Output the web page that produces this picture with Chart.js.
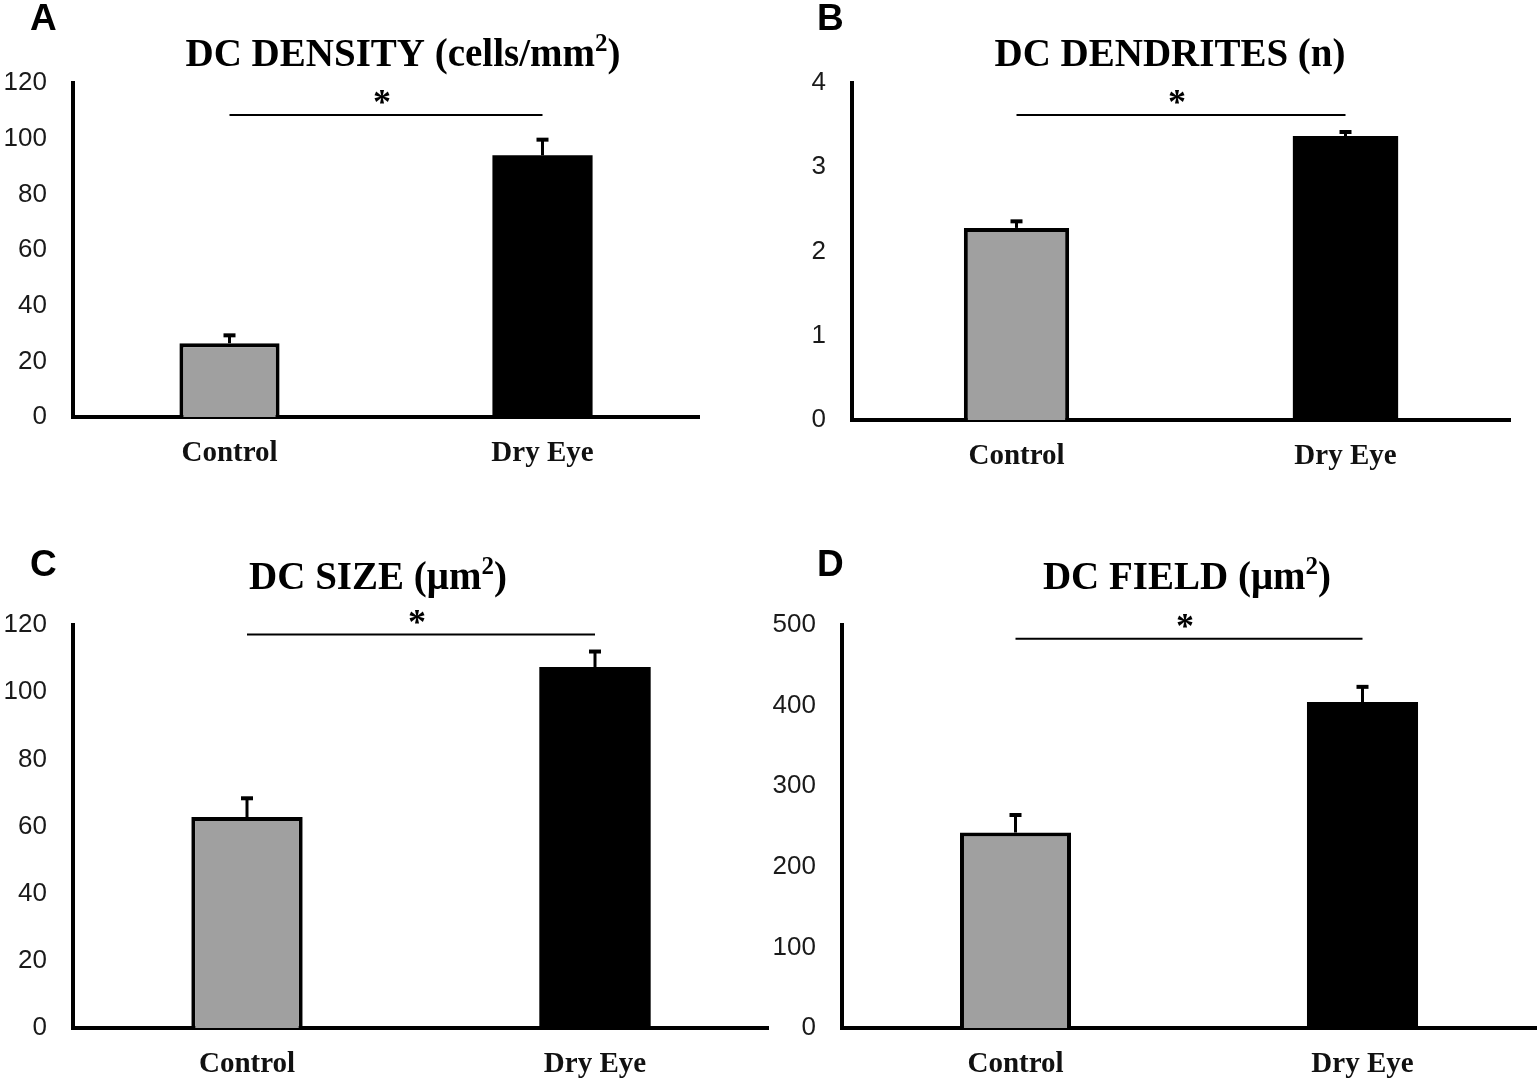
<!DOCTYPE html>
<html>
<head>
<meta charset="utf-8">
<script src="https://cdn.jsdelivr.net/npm/chart.js@4.4.1/dist/chart.umd.min.js"></script>
<style>
  body { margin: 0; background: #fff; }
  .panel { position: absolute; width: 769px; height: 540px; }
</style>
</head>
<body>
<div class="panel" style="left:0;top:0"><canvas id="chartA" width="769" height="540"></canvas></div>
<div class="panel" style="left:769px;top:0"><canvas id="chartB" width="769" height="540"></canvas></div>
<div class="panel" style="left:0;top:540px"><canvas id="chartC" width="769" height="540"></canvas></div>
<div class="panel" style="left:769px;top:540px"><canvas id="chartD" width="769" height="540"></canvas></div>
<script>
// categories
var groups = ['Control', 'Dry Eye'];

// A - DC density (cells/mm2)
var densityMean = [26.5, 94];
var densityErr = [3.2, 6];
// B - DC dendrites (n)
var dendriteMean = [2.28, 3.37];
var dendriteErr = [0.09, 0.06];
// C - DC size (um2)
var sizeMean = [62.8, 107.5];
var sizeErr = [5.9, 4.9];
// D - DC field (um2)
var fieldMean = [242.5, 404.5];
var fieldErr = [23, 20];

// y axis ticks: [max, step]
var densityTicks = [120, 20];
var dendriteTicks = [4, 1];
var sizeTicks = [120, 20];
var fieldTicks = [500, 100];

// level of the significance bar
var sigLevels = [108.5, 3.62, 117.2, 483];

var barColors = ['#a0a0a0', '#000000'];

// title with a real superscript "2"
function drawTitle(ctx, parts, cx, cy) {
  var big = 'bold 39px "Liberation Serif"', small = 'bold 25px "Liberation Serif"';
  var w = 0;
  parts.forEach(function(t, i) {
    ctx.font = (i == 1) ? small : big;
    w += ctx.measureText(t).width;
  });
  var x = cx - w / 2;
  ctx.textAlign = 'left';
  parts.forEach(function(t, i) {
    ctx.font = (i == 1) ? small : big;
    ctx.fillText(t, x, (i == 1) ? cy - 11 : cy);
    x += ctx.measureText(t).width;
  });
}

// error bars + significance line
var extras = {
  id: 'extras',
  afterDatasetsDraw: function(chart) {
    var o = chart.options.plugins.extras;
    var ctx = chart.ctx;
    var y = chart.scales.y;
    var meta = chart.getDatasetMeta(0);
    ctx.save();
    ctx.strokeStyle = '#000';
    meta.data.forEach(function(bar, i) {
      var top = y.getPixelForValue(o.mean[i]);
      var hi = y.getPixelForValue(o.mean[i] + o.err[i]);
      ctx.lineWidth = 3;
      ctx.beginPath();
      ctx.moveTo(bar.x, top);
      ctx.lineTo(bar.x, hi);
      ctx.stroke();
      ctx.lineWidth = 4;
      ctx.beginPath();
      ctx.moveTo(bar.x - 6, hi + 1);
      ctx.lineTo(bar.x + 6, hi + 1);
      ctx.stroke();
    });
    // significance
    var sy = y.getPixelForValue(o.sig);
    var x1 = meta.data[0].x, x2 = meta.data[1].x;
    ctx.lineWidth = 2;
    ctx.beginPath();
    ctx.moveTo(x1, sy);
    ctx.lineTo(x2, sy);
    ctx.stroke();
    ctx.fillStyle = '#000';
    ctx.font = 'bold 36px "Liberation Serif"';
    ctx.textAlign = 'center';
    ctx.textBaseline = 'middle';
    ctx.fillText('*', (x1 + x2) / 2 - 4, sy - 10);
    // title and panel letter
    drawTitle(ctx, o.title, o.titleX, o.titleY);
    ctx.font = 'bold 37px "Liberation Sans"';
    ctx.textAlign = 'left';
    ctx.fillText(o.letter, o.letterX, o.letterY);
    ctx.restore();
  }
};

function makeChart(id, mean, err, ticks, sig, p) {
  new Chart(document.getElementById(id), {
    type: 'bar',
    data: {
      labels: groups,
      datasets: [{
        data: mean,
        backgroundColor: barColors,
        borderColor: '#000',
        borderWidth: [4, 0],
        borderSkipped: 'bottom',
        barPercentage: 0.32,
        categoryPercentage: 1
      }]
    },
    options: {
      responsive: false,
      animation: false,
      devicePixelRatio: 1,
      layout: { padding: { left: 0, right: p.right, top: p.top, bottom: 0 } },
      plugins: {
        legend: { display: false },
        tooltip: { enabled: false },
        extras: {
          mean: mean, err: err, sig: sig,
          title: p.title, titleX: p.titleX, titleY: p.titleY,
          letter: p.letter, letterX: p.letterX, letterY: p.letterY
        }
      },
      scales: {
        x: {
          grid: { display: false, drawTicks: false },
          border: { display: true, color: '#000', width: 4 },
          ticks: {
            color: '#111',
            padding: 19,
            font: { family: 'Liberation Serif', size: 29, weight: 'bold' }
          },
          afterFit: function(s) { s.height = p.xH; }
        },
        y: {
          min: 0,
          max: ticks[0],
          grid: { display: false, drawTicks: false },
          border: { display: true, color: '#000', width: 4 },
          ticks: {
            stepSize: ticks[1],
            color: '#1a1a1a',
            padding: 26,
            font: { family: 'Liberation Sans', size: 26 }
          },
          afterFit: function(s) { s.width = p.yW; }
        }
      }
    },
    plugins: [extras]
  });
}

makeChart('chartA', densityMean, densityErr, densityTicks, sigLevels[0], {
  right: 70, top: 83, yW: 73, xH: 123,
  title: ['DC DENSITY (cells/mm', '2', ')'], titleX: 403, titleY: 56,
  letter: 'A', letterX: 30, letterY: 20
});
makeChart('chartB', dendriteMean, dendriteErr, dendriteTicks, sigLevels[1], {
  right: 28, top: 83, yW: 83, xH: 120,
  title: ['DC DENDRITES (n)', '', ''], titleX: 1170 - 769, titleY: 56,
  letter: 'B', letterX: 48, letterY: 20
});
makeChart('chartC', sizeMean, sizeErr, sizeTicks, sigLevels[2], {
  right: 0, top: 85, yW: 73, xH: 52,
  title: ['DC SIZE (μm', '2', ')'], titleX: 378, titleY: 39,
  letter: 'C', letterX: 30, letterY: 26
});
makeChart('chartD', fieldMean, fieldErr, fieldTicks, sigLevels[3], {
  right: 2, top: 85, yW: 73, xH: 52,
  title: ['DC FIELD (μm', '2', ')'], titleX: 418, titleY: 39,
  letter: 'D', letterX: 48, letterY: 26
});
</script>
</body>
</html>
